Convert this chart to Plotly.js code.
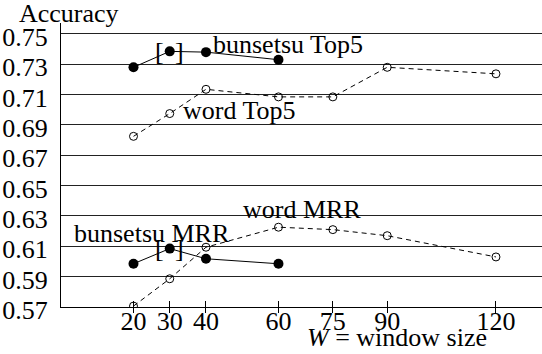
<!DOCTYPE html>
<html>
<head>
<meta charset="utf-8">
<script src="https://cdn.plot.ly/plotly-3.0.1.min.js"></script>
<style>html,body{margin:0;padding:0;background:#fff;}#chart{width:542px;height:354px;}</style>
</head>
<body>
<div id="chart"></div>
<script>
const xTicks = [20, 30, 40, 60, 75, 90, 120];
const yTicks = [0.57, 0.59, 0.61, 0.63, 0.65, 0.67, 0.69, 0.71, 0.73, 0.75];

const bunsetsuX = [20, 30, 40, 60];
const bunsetsuTop5 = [0.728, 0.7385, 0.738, 0.733];
const bunsetsuMRR = [0.5985, 0.6085, 0.6018, 0.5985];

const wordX = [20, 30, 40, 60, 75, 90, 120];
const wordTop5 = [0.6825, 0.6975, 0.7135, 0.7085, 0.7085, 0.728, 0.7237];
const wordMRR = [0.5706, 0.5886, 0.6094, 0.6226, 0.621, 0.617, 0.603];

const F = "'Liberation Serif', 'Times New Roman', serif";

const solid = {color: '#000', width: 1};
const dashed = {color: '#000', width: 1, dash: '5px,4px'};
const filled = {symbol: 'circle', size: 10, color: '#000'};
const open = {symbol: 'circle-open', size: 8, color: '#000', line: {width: 1, color: '#000'}};

const traces = [
  {x: wordX, y: wordTop5, mode: 'lines+markers', line: dashed, marker: open},
  {x: wordX, y: wordMRR, mode: 'lines+markers', line: dashed, marker: open},
  {x: bunsetsuX, y: bunsetsuTop5, mode: 'lines+markers', line: solid, marker: filled},
  {x: bunsetsuX, y: bunsetsuMRR, mode: 'lines+markers', line: solid, marker: filled}
];

function lab(text, x, y) {
  return {text: text, xref: 'paper', yref: 'paper', x: x, y: y, xanchor: 'center', yanchor: 'middle',
          showarrow: false, font: {family: F, size: 26, color: '#000'}};
}
// paper coords helpers: plot area x 61..542, y 23..307
function px(X) { return (X - 61) / 481; }
function py(Y) { return (307 - Y) / 284; }

const annotations = [
  lab('bunsetsu Top5', px(288), py(44)),
  lab('word Top5', px(239), py(110.5)),
  lab('word MRR', px(301.5), py(209)),
  lab('bunsetsu MRR', px(151.5), py(233)),
  lab('Accuracy', px(68.5), py(14)),
  lab('<i>W</i> = window size', px(397), py(337))
];
[[bunsetsuX[1], bunsetsuTop5[1]], [bunsetsuX[1], bunsetsuMRR[1]]].forEach(function(p) {
  annotations.push({text: '[', x: p[0], y: p[1], xref: 'x', yref: 'y', showarrow: false, xshift: -10,
    xanchor: 'center', yanchor: 'middle', font: {family: F, size: 26, color: '#000'}});
  annotations.push({text: ']', x: p[0], y: p[1], xref: 'x', yref: 'y', showarrow: false, xshift: 10,
    xanchor: 'center', yanchor: 'middle', font: {family: F, size: 26, color: '#000'}});
});

const layout = {
  width: 542, height: 354,
  margin: {l: 61, r: 0, t: 23, b: 47},
  paper_bgcolor: '#fff', plot_bgcolor: '#fff',
  showlegend: false,
  font: {family: F, size: 26, color: '#000'},
  xaxis: {range: [0, 132.7], tickvals: xTicks, ticktext: xTicks.map(String), ticks: 'inside', ticklen: 6,
          tickcolor: '#000', tickwidth: 1, showline: true, linecolor: '#000', linewidth: 1,
          showgrid: false, zeroline: false, ticklabelposition: 'outside', ticklabelstandoff: -9,
          minor: {tickmode: 'array', tickvals: xTicks, ticks: 'outside', ticklen: 5, tickcolor: '#000', tickwidth: 1, showgrid: false},
          tickfont: {family: F, size: 26, color: '#000'}},
  yaxis: {range: [0.57, 0.7572], tickvals: yTicks, ticktext: yTicks.map(v => v.toFixed(2)), ticks: '',
          showline: true, linecolor: '#000', linewidth: 1, showgrid: true, gridcolor: '#222', gridwidth: 1,
          zeroline: false, ticklabelstandoff: 7, ticklabelshift: 3,
          tickfont: {family: F, size: 26, color: '#000'}},
  annotations: annotations
};

Plotly.newPlot('chart', traces, layout, {staticPlot: true, displayModeBar: false});
</script>
</body>
</html>
